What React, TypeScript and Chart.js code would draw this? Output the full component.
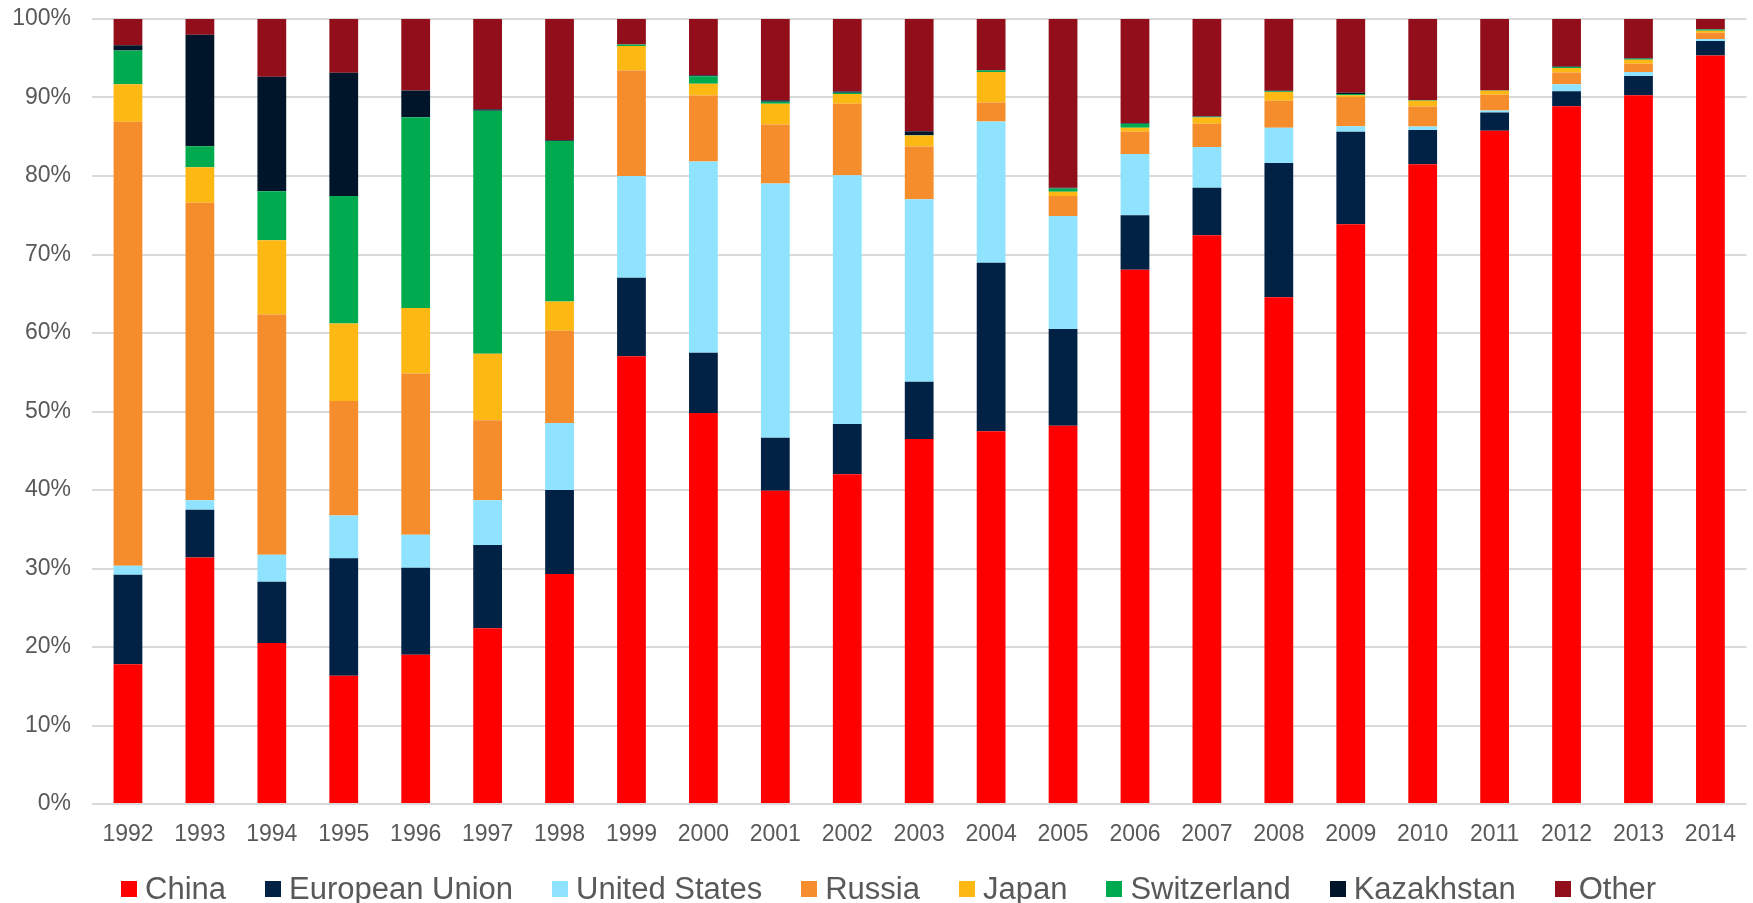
import React, { useEffect, useRef } from "react";
import { Chart, registerables } from "chart.js";

Chart.register(...registerables);

// Share of each supplier, percent of the yearly total
const years = [
  "1992", "1993", "1994", "1995", "1996", "1997", "1998", "1999", "2000", "2001", "2002", "2003",
  "2004", "2005", "2006", "2007", "2008", "2009", "2010", "2011", "2012", "2013", "2014",
];

const china = [17.8, 31.4, 20.5, 16.35, 19.0, 22.4, 29.3, 57.05, 49.8, 39.9, 42.0, 46.5, 47.5, 48.2, 68.05, 72.45, 64.55, 73.85, 81.5, 85.75, 88.9, 90.3, 95.35];
const europeanUnion = [11.4, 6.1, 7.8, 14.95, 11.1, 10.6, 10.7, 10.0, 7.7, 6.75, 6.4, 7.3, 21.45, 12.3, 6.95, 6.05, 17.1, 11.8, 4.35, 2.35, 1.9, 2.45, 1.85];
const unitedStates = [1.15, 1.2, 3.45, 5.45, 4.2, 5.7, 8.55, 12.95, 24.35, 32.4, 31.7, 23.25, 18.0, 14.4, 7.8, 5.2, 4.5, 0.7, 0.45, 0.25, 0.9, 0.5, 0.25];
const russia = [56.55, 37.9, 30.6, 14.6, 20.55, 10.2, 11.75, 13.45, 8.4, 7.5, 9.1, 6.7, 2.4, 2.55, 2.85, 2.95, 3.45, 3.7, 2.55, 2.0, 1.5, 1.05, 0.8];
const japan = [4.8, 4.5, 9.45, 9.85, 8.35, 8.45, 3.7, 3.1, 1.5, 2.65, 1.25, 1.4, 3.9, 0.55, 0.5, 0.8, 1.1, 0.25, 0.75, 0.5, 0.55, 0.5, 0.25];
const switzerland = [4.3, 2.7, 6.25, 16.25, 24.3, 30.95, 20.45, 0.2, 0.95, 0.25, 0.15, 0.05, 0.2, 0.4, 0.5, 0.1, 0.1, 0.15, 0.05, 0.05, 0.15, 0.15, 0.15];
const kazakhstan = [0.65, 14.2, 14.6, 15.7, 3.4, 0.2, 0.1, 0, 0.15, 0.2, 0.15, 0.5, 0.05, 0.1, 0.1, 0.05, 0.05, 0.15, 0, 0, 0.05, 0.05, 0.05];
const other = [3.35, 2.0, 7.35, 6.85, 9.1, 11.5, 15.45, 3.25, 7.15, 10.35, 9.25, 14.3, 6.5, 21.5, 13.25, 12.4, 9.15, 9.4, 10.35, 9.1, 6.05, 5.0, 1.3];

const yTicks = [0, 10, 20, 30, 40, 50, 60, 70, 80, 90, 100];

const seriesNames = ["China", "European Union", "United States", "Russia", "Japan", "Switzerland", "Kazakhstan", "Other"];
const seriesValues = [china, europeanUnion, unitedStates, russia, japan, switzerland, kazakhstan, other];
const seriesColors = ["#FF0000", "#012245", "#8FE3FE", "#F68D2C", "#FDB813", "#00AB50", "#01152A", "#920E1A"];

const FONT = "'Liberation Sans', Arial, Helvetica, sans-serif";
const TEXT = "#595959";

export default function App() {
  const canvasRef = useRef<HTMLCanvasElement | null>(null);

  useEffect(() => {
    const canvas = canvasRef.current;
    if (!canvas) return;
    const chart = new Chart(canvas, {
      type: "bar",
      data: {
        labels: years,
        datasets: seriesNames.map((name, i) => ({
          label: name,
          data: seriesValues[i],
          backgroundColor: seriesColors[i],
          borderWidth: 0,
          barPercentage: 0.4,
          categoryPercentage: 1,
        })),
      },
      options: {
        responsive: false,
        animation: false,
        devicePixelRatio: 1,
        layout: { padding: { top: 19, left: 0, right: 0, bottom: 0 } },
        plugins: {
          legend: { display: false },
          tooltip: { enabled: false },
        },
        scales: {
          x: {
            stacked: true,
            grid: { display: false, drawTicks: false },
            border: { display: false },
            ticks: {
              color: TEXT,
              font: { family: FONT, size: 23 },
              padding: 17,
              maxRotation: 0,
              autoSkip: false,
            },
            afterFit: (scale: any) => {
              scale.height = 46;
            },
          },
          y: {
            stacked: true,
            min: 0,
            max: 100,
            afterBuildTicks: (scale: any) => {
              scale.ticks = yTicks.map((v) => ({ value: v }));
            },
            grid: { color: "#D9D9D9", lineWidth: 2, drawTicks: false },
            border: { display: false },
            ticks: {
              color: TEXT,
              font: { family: FONT, size: 23 },
              padding: 21,
              callback: (v: any) => `${v}%`,
            },
            afterFit: (scale: any) => {
              scale.width = 92;
              scale.paddingTop = 0;
              scale.paddingBottom = 0;
            },
          },
        },
      },
    });
    return () => chart.destroy();
  }, []);

  return (
    <div style={{ position: "fixed", left: 0, top: 0, width: 1753, height: 903, background: "#fff" }}>
      <canvas ref={canvasRef} width={1753} height={850} style={{ display: "block", width: 1753, height: 850 }} />
      <div
        style={{
          position: "absolute",
          left: 121,
          top: 873,
          height: 31,
          display: "flex",
          alignItems: "center",
          gap: 39,
          fontFamily: FONT,
          fontSize: 31,
          lineHeight: "31px",
          color: TEXT,
          whiteSpace: "nowrap",
        }}
      >
        {seriesNames.map((name, i) => (
          <div key={name} style={{ display: "flex", alignItems: "center" }}>
            <span style={{ display: "inline-block", width: 16, height: 16, background: seriesColors[i], marginRight: 8 }} />
            <span>{name}</span>
          </div>
        ))}
      </div>
    </div>
  );
}
